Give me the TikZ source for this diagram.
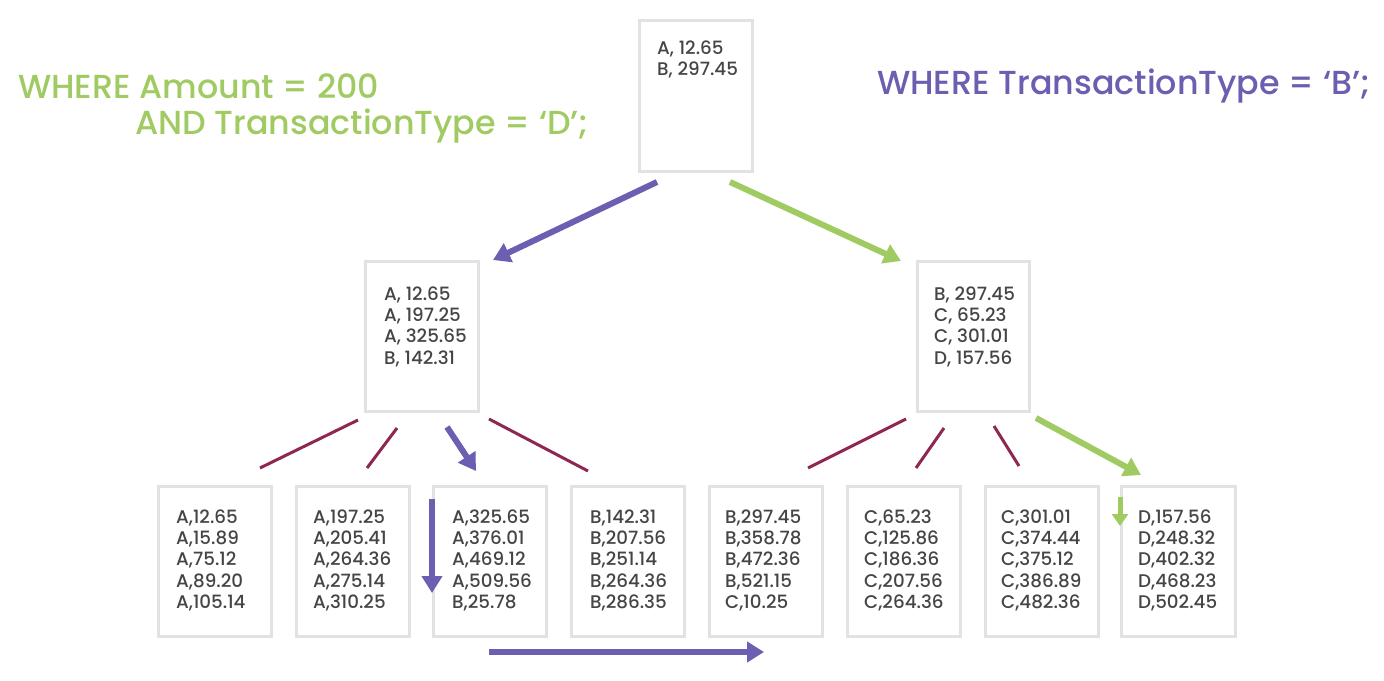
\documentclass[tikz,border=0pt]{standalone}
\usepackage{fontspec}
\setmainfont{Poppins Medium}
\newfontfamily\titlefont{Poppins Medium}
\usetikzlibrary{arrows.meta}
\definecolor{qgreen}{HTML}{A0CB62}
\definecolor{qpurple}{HTML}{6A5FB0}
\definecolor{qred}{HTML}{8E2752}
\definecolor{qbox}{HTML}{E2E2E2}
\definecolor{qtext}{HTML}{454545}
\tikzset{
  pagebox/.style={draw=qbox, line width=3pt, fill=white, inner sep=0pt, anchor=north west},
  rows/.style={anchor=north west, inner sep=0pt, align=left, text=qtext,
    font=\fontsize{18.3}{21.3}\selectfont},
  link/.style={draw=qred, line width=3pt},
  parrow/.style={draw=qpurple, line width=6pt, -{Triangle[length=17pt,width=20pt]}},
  garrow/.style={draw=qgreen, line width=6pt, -{Triangle[length=17pt,width=20pt]}},
  title/.style={anchor=west, inner sep=0pt, font=\titlefont\fontsize{33.3}{40}\selectfont}
}
\begin{document}
\begin{tikzpicture}[x=1pt,y=-1pt]
\useasboundingbox (0,0) rectangle (1384,680);
\fill[white] (0,0) rectangle (1384,680);

% titles
\node[title, text=qgreen] (t1) at (18,86) {WHERE Amount = 200};
\node[title, text=qgreen] (t2) at (135,126) {AND TransactionType = ‘D’;};
\node[title, text=qpurple] (t3) at (877,86) {WHERE TransactionType = ‘B’;};

% root
\node[pagebox, minimum width=113pt, minimum height=151pt] (root) at (638,19) {};
\node[rows] (rootT) at (657,40.5) {A, 12.65\\B, 297.45};

% middle
\node[pagebox, minimum width=113pt, minimum height=150pt] (ml) at (364,260) {};
\node[rows] (mlT) at (384,286.5) {A, 12.65\\A, 197.25\\A, 325.65\\B, 142.31};
\node[pagebox, minimum width=112pt, minimum height=150pt] (mr) at (916,260) {};
\node[rows] (mrT) at (934,286.5) {B, 297.45\\C, 65.23\\C, 301.01\\D, 157.56};

% leaves
\node[pagebox, minimum width=113pt, minimum height=150pt] (l1) at (157,485) {};
\node[rows] (l1T) at (176,509.5) {A,12.65\\A,15.89\\A,75.12\\A,89.20\\A,105.14};
\node[pagebox, minimum width=113pt, minimum height=150pt] (l2) at (295,485) {};
\node[rows] (l2T) at (313,509.5) {A,197.25\\A,205.41\\A,264.36\\A,275.14\\A,310.25};
\node[pagebox, minimum width=113pt, minimum height=150pt] (l3) at (432,485) {};
\node[rows] (l3T) at (452,509.5) {A,325.65\\A,376.01\\A,469.12\\A,509.56\\B,25.78};
\node[pagebox, minimum width=113pt, minimum height=150pt] (l4) at (570,485) {};
\node[rows] (l4T) at (590,509.5) {B,142.31\\B,207.56\\B,251.14\\B,264.36\\B,286.35};
\node[pagebox, minimum width=113pt, minimum height=150pt] (l5) at (708,485) {};
\node[rows] (l5T) at (725,509.5) {B,297.45\\B,358.78\\B,472.36\\B,521.15\\C,10.25};
\node[pagebox, minimum width=113pt, minimum height=150pt] (l6) at (846,485) {};
\node[rows] (l6T) at (864,509.5) {C,65.23\\C,125.86\\C,186.36\\C,207.56\\C,264.36};
\node[pagebox, minimum width=113pt, minimum height=150pt] (l7) at (984,485) {};
\node[rows] (l7T) at (1001,509.5) {C,301.01\\C,374.44\\C,375.12\\C,386.89\\C,482.36};
\node[pagebox, minimum width=114pt, minimum height=150pt] (l8) at (1120,485) {};
\node[rows] (l8T) at (1138,509.5) {D,157.56\\D,248.32\\D,402.32\\D,468.23\\D,502.45};

% connector end points
\coordinate (a1s) at (657,182); \coordinate (a1e) at (493,260);
\coordinate (a2s) at (730,182); \coordinate (a2e) at (901,261);
\coordinate (r1s) at (358,420); \coordinate (r1e) at (260,468);
\coordinate (r2s) at (397,428); \coordinate (r2e) at (367,468);
\coordinate (p1s) at (447,427); \coordinate (p1e) at (476,471);
\coordinate (r3s) at (489,419); \coordinate (r3e) at (588,471);
\coordinate (r4s) at (906,419); \coordinate (r4e) at (808,468);
\coordinate (r5s) at (944,428); \coordinate (r5e) at (916,468);
\coordinate (r6s) at (994,426); \coordinate (r6e) at (1019,466);
\coordinate (g1s) at (1036,418); \coordinate (g1e) at (1141,475);
\coordinate (pvs) at (432,499); \coordinate (pve) at (432,593);
\coordinate (gvs) at (1120,497); \coordinate (gve) at (1120,526);
\coordinate (phs) at (489,652); \coordinate (phe) at (764,652);

\draw[parrow] (a1s) -- (a1e);
\draw[garrow] (a2s) -- (a2e);
\draw[link] (r1s) -- (r1e);
\draw[link] (r2s) -- (r2e);
\draw[parrow] (p1s) -- (p1e);
\draw[link] (r3s) -- (r3e);
\draw[link] (r4s) -- (r4e);
\draw[link] (r5s) -- (r5e);
\draw[link] (r6s) -- (r6e);
\draw[garrow] (g1s) -- (g1e);
\draw[parrow] (pvs) -- (pve);
\draw[draw=qgreen, line width=5pt, -{Triangle[length=12pt,width=16pt]}] (gvs) -- (gve);
\draw[parrow] (phs) -- (phe);
\end{tikzpicture}
\end{document}
